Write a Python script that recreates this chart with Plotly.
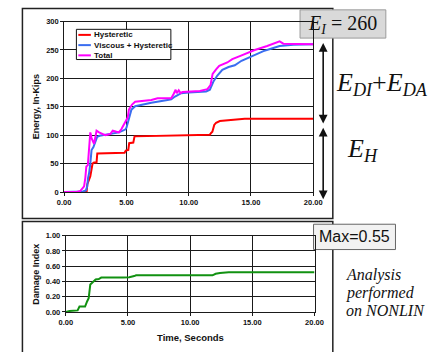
import plotly.graph_objects as go

# ---- energy time histories (in-kips) ----
t_hys = [0, 1.80, 1.86, 1.92, 2.0, 2.1, 2.2, 2.28, 2.4, 2.6, 2.66, 4.85, 4.95, 5.15, 5.22,
         5.55, 5.65, 8.9, 9.0, 11.7, 11.8, 11.9, 12.05, 12.2, 12.5, 13.3, 14.5, 20.0]
e_hys = [0, 0, 14, 20, 22, 28, 38, 50, 52, 52, 68, 69, 73, 74, 86,
         87, 98, 99, 100, 101, 104, 106, 118, 122, 125, 127, 129, 129]

t_vis = [0, 1.2, 1.5, 1.75, 1.85, 1.92, 2.0, 2.1, 2.2, 2.35, 2.5, 2.65, 2.85, 3.5, 4.4, 4.9,
         5.0, 5.15, 5.25, 5.4, 5.7, 6.3, 7.0, 8.3, 8.6, 8.9, 9.1, 9.4, 10.0, 11.4, 11.7,
         11.85, 12.0, 12.3, 12.7, 13.2, 13.7, 14.24, 15.0, 16.0, 16.6, 17.3, 18.4, 20.0]
e_vis = [0, 0, 1, 3, 10, 25, 33, 50, 74, 79, 88, 97, 99, 101, 105, 110,
         113, 125, 135, 145, 151, 154, 157, 162, 163, 168, 171, 174, 175, 177, 180,
         188, 195, 205, 215, 220, 223, 231, 238, 248, 252, 257, 259, 260]

t_tot = [0, 1.0, 1.3, 1.6, 1.7, 1.78, 1.9, 2.0, 2.1, 2.2, 2.3, 2.4, 2.5, 2.6, 2.8, 3.0,
         3.3, 3.7, 3.9, 4.2, 4.4, 4.6, 4.8, 4.95, 5.1, 5.2, 5.45, 5.7, 6.25, 7.0, 7.5,
         8.2, 8.6, 8.8, 8.95, 9.05, 9.2, 9.35, 9.5, 10.9, 11.5, 11.75, 11.92, 12.2, 12.45,
         13.1, 13.5, 14.2, 15.3, 16.3, 17.3, 17.6, 18.4, 20.0]
e_tot = [0, 0, 2, 10, 25, 45, 47, 75, 105, 95, 88, 85, 96, 108, 105, 103,
         100, 102, 108, 106, 105, 111, 119, 125, 131, 145, 154, 159, 160, 162, 165,
         165, 165, 173, 180, 174, 179, 174, 176, 178, 181, 188, 208, 216, 222,
         228, 234, 240, 250, 257, 265, 261, 261, 260]

# ---- damage index history ----
t_dmg = [0, 0.3, 0.95, 1.05, 1.1, 1.55, 1.65, 1.72, 1.84, 1.92, 1.97, 2.1, 2.25, 2.4,
         2.65, 2.85, 4.6, 5.1, 5.5, 5.65, 11.8, 12.05, 12.4, 13.1, 20.0]
d_dmg = [0, 0.013, 0.02, 0.055, 0.07, 0.07, 0.10, 0.14, 0.18, 0.30, 0.36, 0.38, 0.40, 0.425,
         0.43, 0.45, 0.45, 0.455, 0.47, 0.48, 0.48, 0.50, 0.51, 0.52, 0.52]

x_ticks = [0, 5, 10, 15, 20]
e_ticks = [0, 50, 100, 150, 200, 250, 300]
d_ticks = [0, 0.2, 0.4, 0.6, 0.8, 1.0]

series = [
    ("Hysteretic", t_hys, e_hys, "#ff0000"),
    ("Viscous + Hysteretic", t_vis, e_vis, "#3a6df0"),
    ("Total", t_tot, e_tot, "#ff00ff"),
]

W, H = 444, 352


def px(x):
    return x / W


def py(y):
    return 1 - y / H


SANS = "Liberation Sans, Arial, sans-serif"
SERIF = "Liberation Serif, Times New Roman, serif"
GRID = "#1a1a1a"

fig = go.Figure()
for name, t, e, c in series:
    fig.add_trace(go.Scatter(x=t, y=e, mode="lines", name=name,
                             line=dict(color=c, width=2), xaxis="x", yaxis="y",
                             showlegend=False))
fig.add_trace(go.Scatter(x=t_dmg, y=d_dmg, mode="lines", name="Damage Index",
                         line=dict(color="#119111", width=2), xaxis="x2", yaxis="y2",
                         showlegend=False))

tickfont = dict(family=SANS, size=7.5, color="#111", weight="bold")
axis_common = dict(showgrid=True, gridcolor=GRID, gridwidth=1, showline=True,
                   linecolor=GRID, linewidth=1, mirror=True, ticks="outside",
                   ticklen=3, tickcolor=GRID, tickfont=tickfont, zeroline=False,
                   fixedrange=True)

fig.update_layout(
    width=W, height=H, autosize=False,
    margin=dict(l=0, r=0, t=0, b=0),
    paper_bgcolor="white", plot_bgcolor="white",
    showlegend=False,
    xaxis=dict(domain=[px(59.3), px(317.7)], range=[0, 20], tickvals=x_ticks,
               tickformat=".2f", anchor="y", **axis_common),
    yaxis=dict(domain=[py(193), py(18)], range=[0, 300], tickvals=e_ticks,
               anchor="x", **axis_common),
    xaxis2=dict(domain=[px(61), px(319)], range=[0, 20], tickvals=x_ticks,
                tickformat=".2f", anchor="y2", **axis_common),
    yaxis2=dict(domain=[py(316), py(237.7)], range=[0, 1], tickvals=d_ticks,
                tickformat=".2f", anchor="x2", **axis_common),
)


def label(x, y, text, font, xanchor="center", **kw):
    return dict(xref="paper", yref="paper", x=px(x), y=py(y), text=text,
                showarrow=False, xanchor=xanchor, yanchor="middle", font=font, **kw)


shapes = []
# chart frames
shapes.append(dict(type="rect", xref="paper", yref="paper", x0=px(16), x1=px(338),
                   y0=py(220), y1=py(4.5), line=dict(color="#222", width=1.5), layer="below"))
shapes.append(dict(type="rect", xref="paper", yref="paper", x0=px(16), x1=px(338),
                   y0=py(358), y1=py(223.3), line=dict(color="#222", width=1.5), layer="below"))

# legend box with line samples
shapes.append(dict(type="rect", xref="paper", yref="paper", x0=px(72), x1=px(170),
                   y0=py(57), y1=py(26), fillcolor="white", line=dict(color="#111", width=1)))
ann = []
for i, (name, t, e, c) in enumerate(series):
    yy = 31.7 + i * 10.5
    shapes.append(dict(type="line", xref="paper", yref="paper", x0=px(74), x1=px(87),
                       y0=py(yy), y1=py(yy), line=dict(color=c, width=2)))
    ann.append(label(88, yy, name, dict(family=SANS, size=8, color="#111", weight="bold"),
                     xanchor="left"))

# value boxes
shapes.append(dict(type="rect", xref="paper", yref="paper", x0=px(304), x1=px(393),
                   y0=py(35), y1=py(6), fillcolor="#d9d9d9", line=dict(color="#9a9a9a", width=1),
                   layer="below"))
shapes.append(dict(type="rect", xref="paper", yref="paper", x0=px(318), x1=px(403),
                   y0=py(252), y1=py(226), fillcolor="#f2f2f2", line=dict(color="#666", width=1),
                   layer="below"))
fig.update_layout(shapes=shapes)

ann.append(label(348.5, 21, "<i>E</i><sub><i>I</i></sub> = 260",
                 dict(family=SERIF, size=20, color="#111")))
ann.append(label(360.5, 239, "Max=0.55", dict(family=SANS, size=16, color="#111")))
ann.append(label(389, 82, "<i>E</i><sub><i>DI</i></sub>+<i>E</i><sub><i>DA</i></sub>",
                 dict(family=SERIF, size=26, color="#111")))
ann.append(label(369, 150, "<i>E</i><sub><i>H</i></sub>",
                 dict(family=SERIF, size=26, color="#111")))
for i, line in enumerate(["Analysis", "performed", "on NONLIN"]):
    ann.append(label(350, 278 + i * 18.5, "<i>" + line + "</i>",
                     dict(family=SERIF, size=16, color="#111"), xanchor="left"))

# double-headed span arrows
for y_top, y_bot in [(40, 122), (127, 200)]:
    ann.append(dict(xref="paper", yref="paper", x=px(328), y=py(y_top), ax=0,
                    ay=y_bot - y_top, axref="pixel", ayref="pixel", text="",
                    showarrow=True, arrowside="end+start", arrowhead=2,
                    arrowsize=1.1, arrowwidth=1.6, arrowcolor="#111", standoff=0,
                    startstandoff=0, startarrowhead=2, startarrowsize=1.1))

# axis titles
title_font = dict(family=SANS, size=9, color="#111", weight="bold")
ann.append(label(30, 105, "Energy, In-Kips", title_font, textangle=-90))
ann.append(label(30, 277, "Damage Index", title_font, textangle=-90))
ann.append(label(190, 342, "Time, Seconds",
                 dict(family=SANS, size=9.5, color="#111", weight="bold")))
fig.update_layout(annotations=ann)

fig.write_html("out.html")
